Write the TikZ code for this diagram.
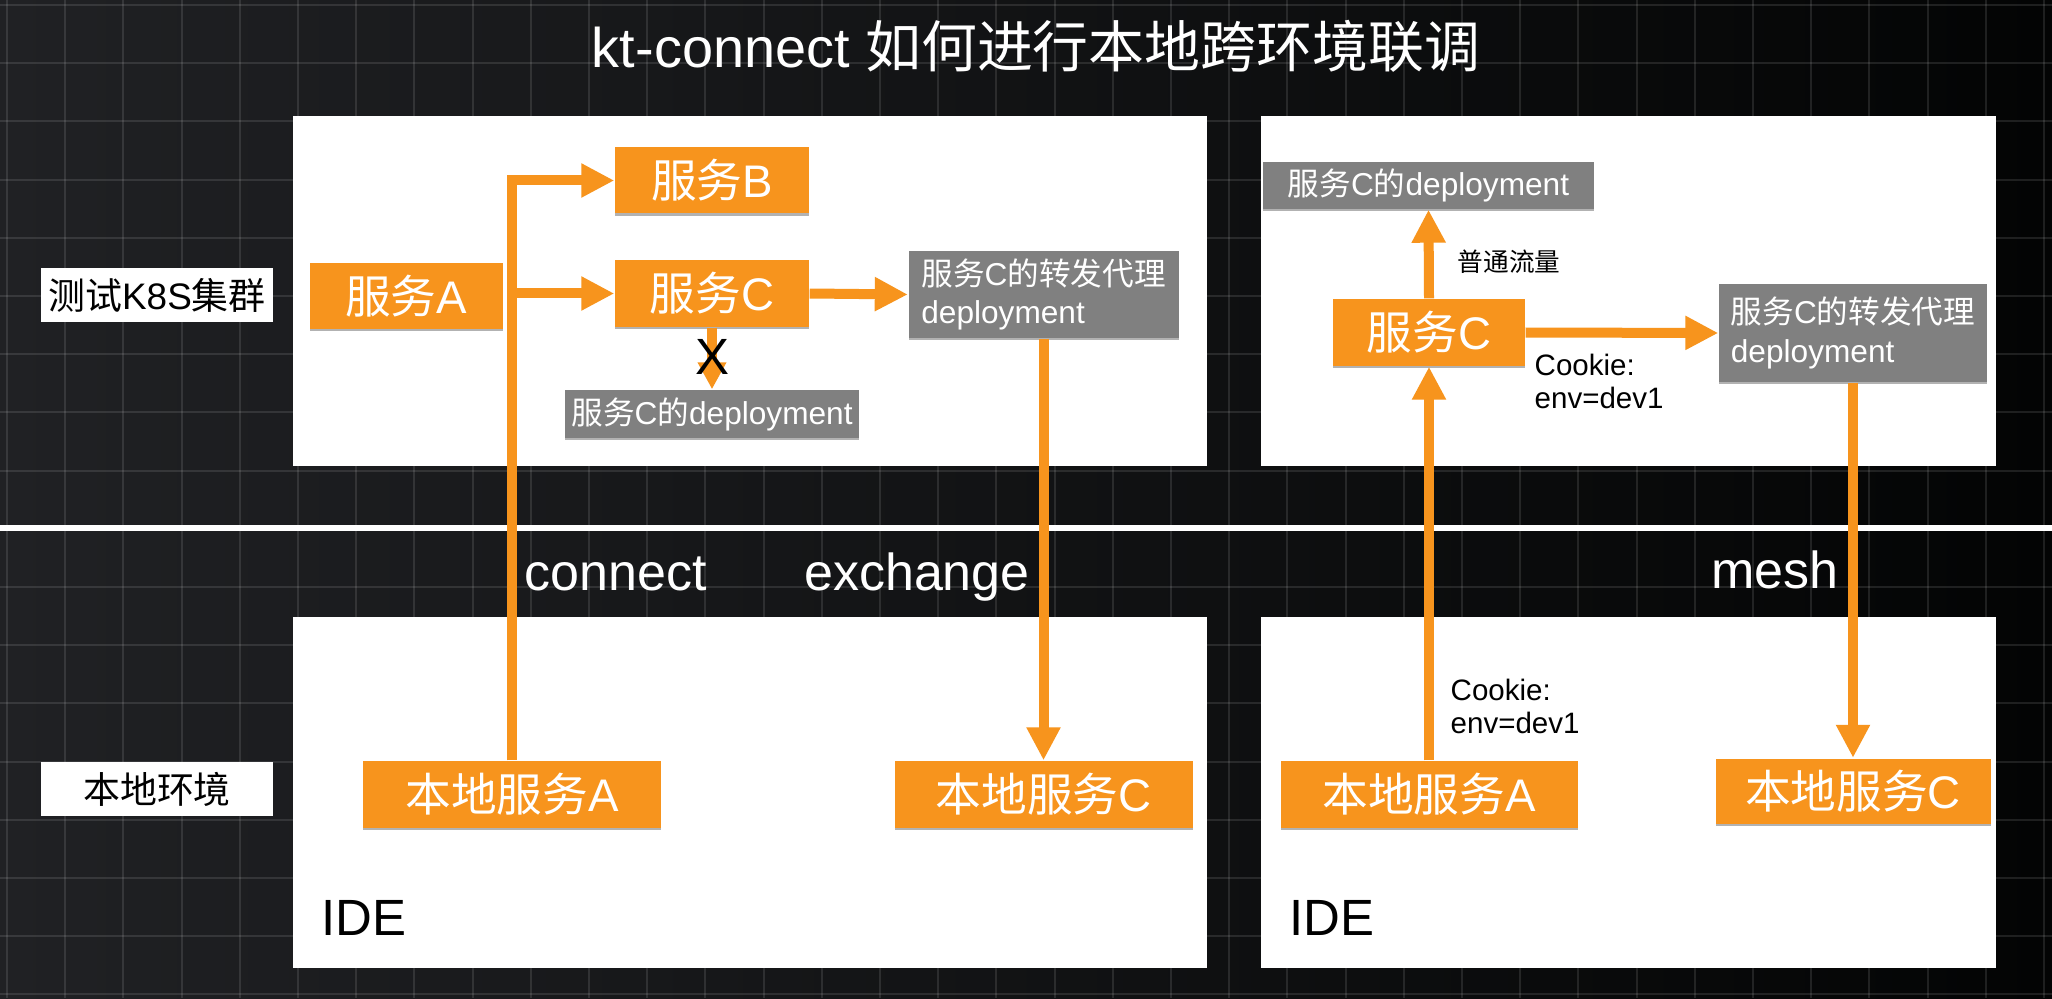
\documentclass[tikz,border=0pt]{standalone}
\usepackage{fontspec}
\setmainfont{Liberation Sans}
\newfontfamily\cjk{Noto Sans CJK SC}
\usepackage{tikz}
\usetikzlibrary{arrows.meta,positioning,calc,shadows}
\definecolor{ktOrange}{HTML}{F7941D}
\definecolor{ktGray}{HTML}{808080}
\definecolor{bgLeft}{HTML}{202124}
\definecolor{bgMid}{HTML}{161718}
\definecolor{bgRight}{HTML}{030404}
\newcommand{\zh}[1]{{\cjk #1}}

\begin{document}
\begin{tikzpicture}[
    >=Latex,
    every node/.style={inner sep=0pt},
    gridline/.style={draw=white,opacity=0.11,line width=0.6pt},
    panel/.style={fill=white},
    boxshadow/.style={drop shadow={shadow xshift=0pt,shadow yshift=-0.7pt,opacity=0.3,fill=black}},
    tag/.style={fill=white,text=black,font=\fontsize{10.5}{12}\selectfont,
                minimum width=2.32cm,minimum height=0.54cm},
    svc/.style={fill=ktOrange,text=white,font=\fontsize{13}{15}\selectfont,
                minimum height=0.66cm,boxshadow},
    dep/.style={fill=ktGray,text=white,font=\fontsize{9}{11}\selectfont,
                align=left,boxshadow},
    arr/.style={draw=ktOrange,line width=0.1cm,-{Triangle[length=0.33cm,width=0.32cm]}},
    flow/.style={text=white,font=\fontsize{14.8}{17}\selectfont},
    ide/.style={text=black,font=\fontsize{14.5}{17}\selectfont},
    note/.style={text=black,font=\fontsize{8.4}{9.4}\selectfont,align=left}
  ]
  %% Slide background with grid
  \useasboundingbox (0,0) rectangle (20.52,9.98);
  \shade[left color=bgLeft,middle color=bgMid,right color=bgRight] (0,0) rectangle (20.52,9.98);
  \foreach \i in {0,...,35}
    \draw[gridline] ({0.07+0.582*\i},0) -- ({0.07+0.582*\i},9.98);
  \foreach \j in {0,...,17}
    \draw[gridline] (0,{9.93-0.582*\j}) -- (20.52,{9.93-0.582*\j});
  \node[text=white,font=\fontsize{15.9}{18}\selectfont] (title) at (10.36,9.52)
        {kt-connect \zh{如何进行本地跨环境联调}};
  \draw[white,line width=1.6pt] (0,4.70) -- (20.52,4.70);
  %% Panels and side tags
  \node[panel,minimum width=9.14cm,minimum height=3.50cm] (k8sL)   at (7.50,7.07)   {};
  \node[panel,minimum width=7.35cm,minimum height=3.50cm] (k8sR)   at (16.285,7.07) {};
  \node[panel,minimum width=9.14cm,minimum height=3.51cm] (ideBoxL) at (7.50,2.055)  {};
  \node[panel,minimum width=7.35cm,minimum height=3.51cm] (ideBoxR) at (16.285,2.055) {};
  \node[tag] (k8s)   at (1.57,7.03) {\zh{测试}K8S\zh{集群}};
  \node[tag] (local) at (1.57,2.09) {\zh{本地环境}};
  %% connect / exchange
  \node[svc,minimum width=1.93cm] (svcA)  at (4.06,7.02)   {\zh{服务}A};
  \node[svc,minimum width=1.94cm] (svcB)  at (7.12,8.175)  {\zh{服务}B};
  \node[svc,minimum width=1.94cm,minimum height=0.67cm] (svcC) at (7.12,7.045) {\zh{服务}C};
  \node[dep,minimum width=2.70cm,minimum height=0.87cm] (proxyL) at (10.435,7.035)
        {\zh{服务}C\zh{的转发代理}\\deployment};
  \node[dep,minimum width=2.94cm,minimum height=0.48cm] (depL) at (7.12,5.84)
        {\zh{服务}C\zh{的}deployment};
  \node[svc,minimum width=2.98cm,minimum height=0.67cm] (localA) at (5.12,2.035)  {\zh{本地服务}A};
  \node[svc,minimum width=2.98cm,minimum height=0.67cm] (localC) at (10.435,2.035) {\zh{本地服务}C};
  \draw[arr] (localA.north) |- (svcB.west);
  \draw[arr] (localA.north |- svcC.west) -- (svcC.west);
  \draw[arr] (svcC.east) -- (proxyL.west);
  \draw[arr,-{Triangle[length=0.27cm,width=0.27cm]}] (svcC.south) -- (depL.north);
  \draw[arr] (proxyL.south) -- (localC.north);
  \node[text=black,font=\fontsize{14.5}{17}\selectfont] (cross) at (7.12,6.41) {X};
  \node[flow,anchor=base] (lblConnect)  at (6.16,4.08) {connect};
  \node[flow,anchor=base] (lblExchange) at (9.17,4.08) {exchange};
  \node[ide,anchor=base west] (ideL) at (3.21,0.63) {IDE};
  %% mesh
  \node[dep,minimum width=3.31cm,minimum height=0.47cm] (depR) at (14.285,8.125)
        {\zh{服务}C\zh{的}deployment};
  \node[svc,minimum width=1.92cm,minimum height=0.67cm] (svcCR) at (14.29,6.655) {\zh{服务}C};
  \node[dep,minimum width=2.68cm,minimum height=0.98cm] (proxyR) at (18.53,6.65)
        {\zh{服务}C\zh{的转发代理}\\deployment};
  \node[svc,minimum width=2.97cm,minimum height=0.67cm] (localAR) at (14.29,2.035) {\zh{本地服务}A};
  \node[svc,minimum width=2.75cm,minimum height=0.65cm] (localCR) at (18.53,2.07)  {\zh{本地服务}C};
  \draw[arr] (svcCR.north) -- (depR.south);
  \draw[arr] (svcCR.east) -- (proxyR.west);
  \draw[arr] (localAR.north) -- (svcCR.south);
  \draw[arr] (proxyR.south) -- (localCR.north);
  \node[text=black,font=\fontsize{7.3}{9}\selectfont,anchor=west] (plain) at (14.57,7.365)
        {\zh{普通流量}};
  \node[note,anchor=north west] (cookieTop) at (15.34,6.45) {Cookie:\\env=dev1};
  \node[note,anchor=north west] (cookieBot) at (14.50,3.20) {Cookie:\\env=dev1};
  \node[flow,anchor=base] (lblMesh) at (17.75,4.10) {mesh};
  \node[ide,anchor=base west] (ideR) at (12.89,0.63) {IDE};
\end{tikzpicture}
\end{document}
